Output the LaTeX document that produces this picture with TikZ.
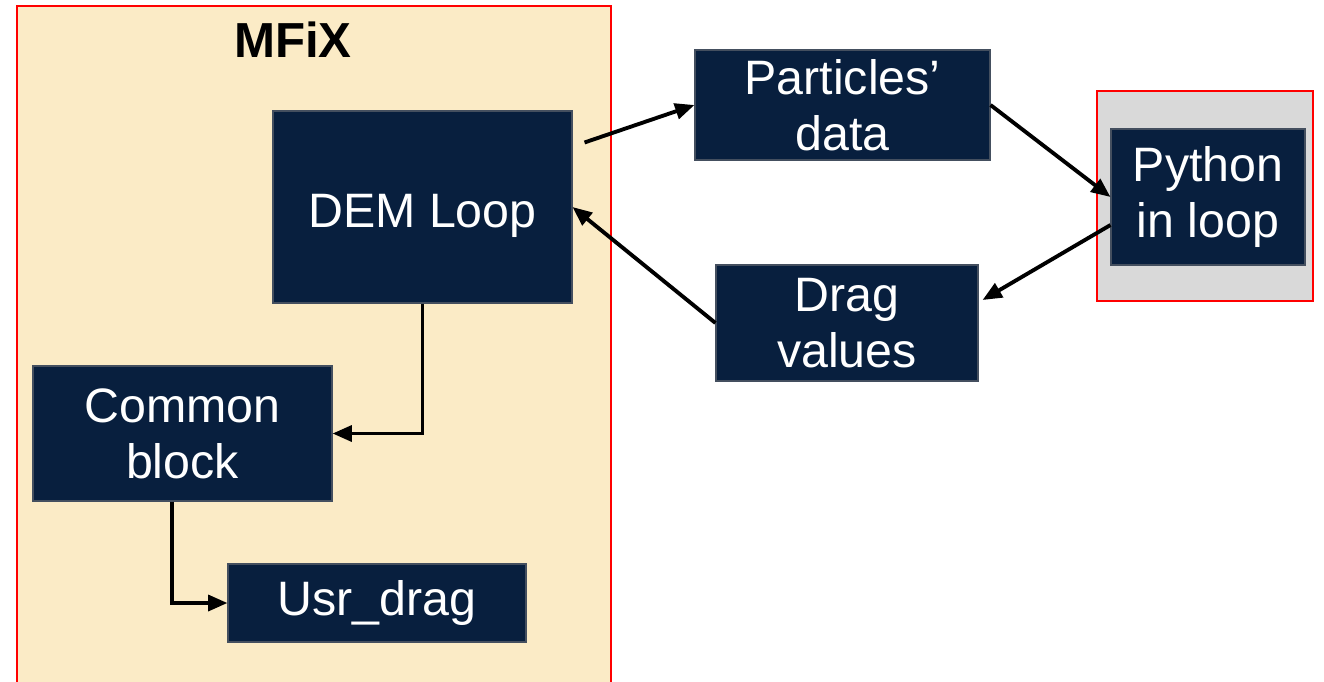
\documentclass[tikz,border=0pt]{standalone}
\usepackage{fontspec}
\setmainfont{Liberation Sans}
\usetikzlibrary{arrows.meta,calc}

\definecolor{boxblue}{HTML}{081F3E}
\definecolor{mfixbg}{HTML}{FBEBC6}
\definecolor{pygray}{HTML}{D9D9D9}

\tikzset{
  block/.style={draw=gray!50!boxblue,line width=0.6pt,fill=boxblue,text=white,
    align=center,inner sep=0pt,font=\fontsize{27.5}{32}\selectfont},
  frame/.style={draw=red,line width=1.5pt},
  link/.style={line width=2.2pt,-{Triangle[length=11pt,width=9pt]}}
}

\begin{document}
\begin{tikzpicture}
\useasboundingbox (0,0) rectangle (26.48,-13.62);
\begin{scope}
\clip (0,0) rectangle (26.48,-13.62);
\draw[frame,fill=mfixbg] (0.34,-0.12) rectangle (12.22,-14);
\end{scope}
\node[font=\fontsize{28}{32}\selectfont\bfseries] (mfix) at (5.86,-0.80) {MFiX};

\node[frame,fill=pygray,minimum width=4.32cm,minimum height=4.2cm] (pyframe) at (24.10,-3.92) {};

\node[block,minimum width=5.98cm,minimum height=3.84cm,text height=1.02cm] (dem) at (8.45,-4.14) {DEM Loop};
\node[block,minimum width=5.9cm,minimum height=2.2cm] (parts) at (16.85,-2.10) {Particles’\\data};
\node[block,minimum width=3.88cm,minimum height=2.72cm] (python) at (24.16,-3.94) {Python\\in loop};
\node[block,minimum width=5.24cm,minimum height=2.32cm] (drag) at (16.94,-6.46) {Drag\\values};
\node[block,minimum width=5.98cm,minimum height=2.7cm] (common) at (3.65,-8.67) {Common\\block};
\node[block,minimum width=5.96cm,minimum height=1.56cm] (usr) at (7.54,-12.06) {Usr\_drag};

\coordinate (demout) at ($(dem.north east)+(0.24,-0.64)$);
\coordinate (pyout) at ($(python.west)+(0,-0.56)$);
\coordinate (dragin) at ($(drag.east)+(0.08,0.46)$);
\coordinate (commonout) at ($(common.south)+(-0.21,0)$);

\draw[link] (demout) -- (parts.west);
\draw[link] (parts.east) -- (python.west);
\draw[link] (pyout) -- (dragin);
\draw[link] (drag.west) -- (dem.east);
\draw[link] (dem.south) |- (common.east);
\draw[link] (commonout) |- (usr.west);
\end{tikzpicture}
\end{document}
